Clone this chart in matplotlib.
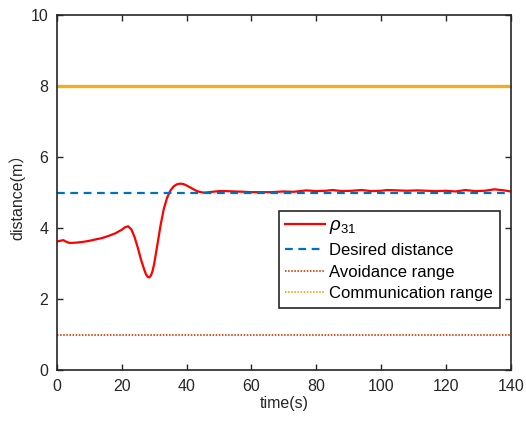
import numpy as np
import matplotlib
matplotlib.use('Agg')
import matplotlib.pyplot as plt
from matplotlib.lines import Line2D

plt.rcParams['font.family'] = ['Liberation Sans', 'Noto Sans CJK SC', 'DejaVu Sans']
plt.rcParams['mathtext.fontset'] = 'custom'
plt.rcParams['mathtext.rm'] = 'Liberation Sans'
plt.rcParams['mathtext.it'] = 'Liberation Sans:italic'

# distance between agent 3 and agent 1 over time
t = [0, 1, 2, 3, 4, 6, 8, 10, 12, 14, 16, 18, 20, 21, 22, 23, 24, 25, 26, 27,
     27.5, 28, 28.5, 29, 29.5, 30, 31, 32, 33, 34, 35, 36, 37, 38, 39, 40, 41,
     42, 43, 44, 45, 46, 48, 50, 52, 55, 58, 60, 63, 66, 70, 73, 77, 80, 83, 85,
     88, 91, 94, 97, 100, 102, 105, 108, 111, 114, 117, 120, 123, 126, 129, 132,
     135, 138, 140]
rho31 = [3.62, 3.64, 3.66, 3.61, 3.58, 3.59, 3.61, 3.64, 3.68, 3.72, 3.78, 3.85,
         3.95, 4.02, 4.05, 3.96, 3.74, 3.44, 3.1, 2.82, 2.7, 2.63, 2.61, 2.66,
         2.78, 2.98, 3.52, 4.08, 4.54, 4.85, 5.05, 5.17, 5.23, 5.25, 5.24, 5.2,
         5.15, 5.1, 5.05, 5.02, 5.0, 5.0, 5.02, 5.04, 5.04, 5.03, 5.02, 5.01,
         5.01, 5.01, 5.03, 5.02, 5.06, 5.04, 5.05, 5.07, 5.04, 5.05, 5.07, 5.04,
         5.05, 5.07, 5.06, 5.05, 5.06, 5.05, 5.04, 5.05, 5.03, 5.07, 5.04, 5.05,
         5.09, 5.06, 5.03]

t_span = [0, 140]
desired = 5.0
avoid = 1.0
comm = 8.0

fig = plt.figure(figsize=(5.26, 4.25), dpi=100)
ax = fig.add_axes([0.108, 0.129, 0.863, 0.836])

ax.plot(t, rho31, color='#FF0000', lw=1.6, label=r'$\rho_{31}$')
ax.plot(t_span, [desired, desired], color='#0072BD', lw=1.6, ls=(0, (3.5, 2.5)),
        label='Desired distance')
ax.plot(t_span, [avoid, avoid], color='#D95319', lw=1.4, ls=(0, (0.8, 0.8)),
        label='Avoidance range')
ax.plot(t_span, [comm, comm], color='#EDB120', lw=2.4, solid_capstyle='butt')

handles, labels = ax.get_legend_handles_labels()
handles.append(Line2D([], [], color='#EDB120', lw=1.4, ls=(0, (0.8, 0.8))))
labels.append('Communication range')
leg = ax.legend(handles, labels, loc='lower right', bbox_to_anchor=(0.976, 0.175),
                fontsize=12, fancybox=False, edgecolor='#262626', framealpha=1,
                handlelength=2.4, handletextpad=0.25, borderpad=0.4,
                labelspacing=0.4, borderaxespad=0)
leg.get_frame().set_linewidth(1.2)
leg.get_texts()[0].set_fontsize(13.5)

ax.set_xlim(0, 140)
ax.set_ylim(0, 10)
ax.set_xticks(np.arange(0, 141, 20))
ax.set_yticks(np.arange(0, 11, 2))
ax.tick_params(direction='in', top=True, right=True, length=4, width=1,
               labelsize=11.5, colors='#262626', pad=6)
for s in ax.spines.values():
    s.set_linewidth(1.2)
    s.set_color('#262626')
ax.set_xlabel('time(s)', fontsize=11.5, color='#262626', labelpad=2)
ax.set_ylabel('distance(m）', fontsize=11.5, color='#262626', labelpad=4)

fig.savefig('out.png', dpi=100)
